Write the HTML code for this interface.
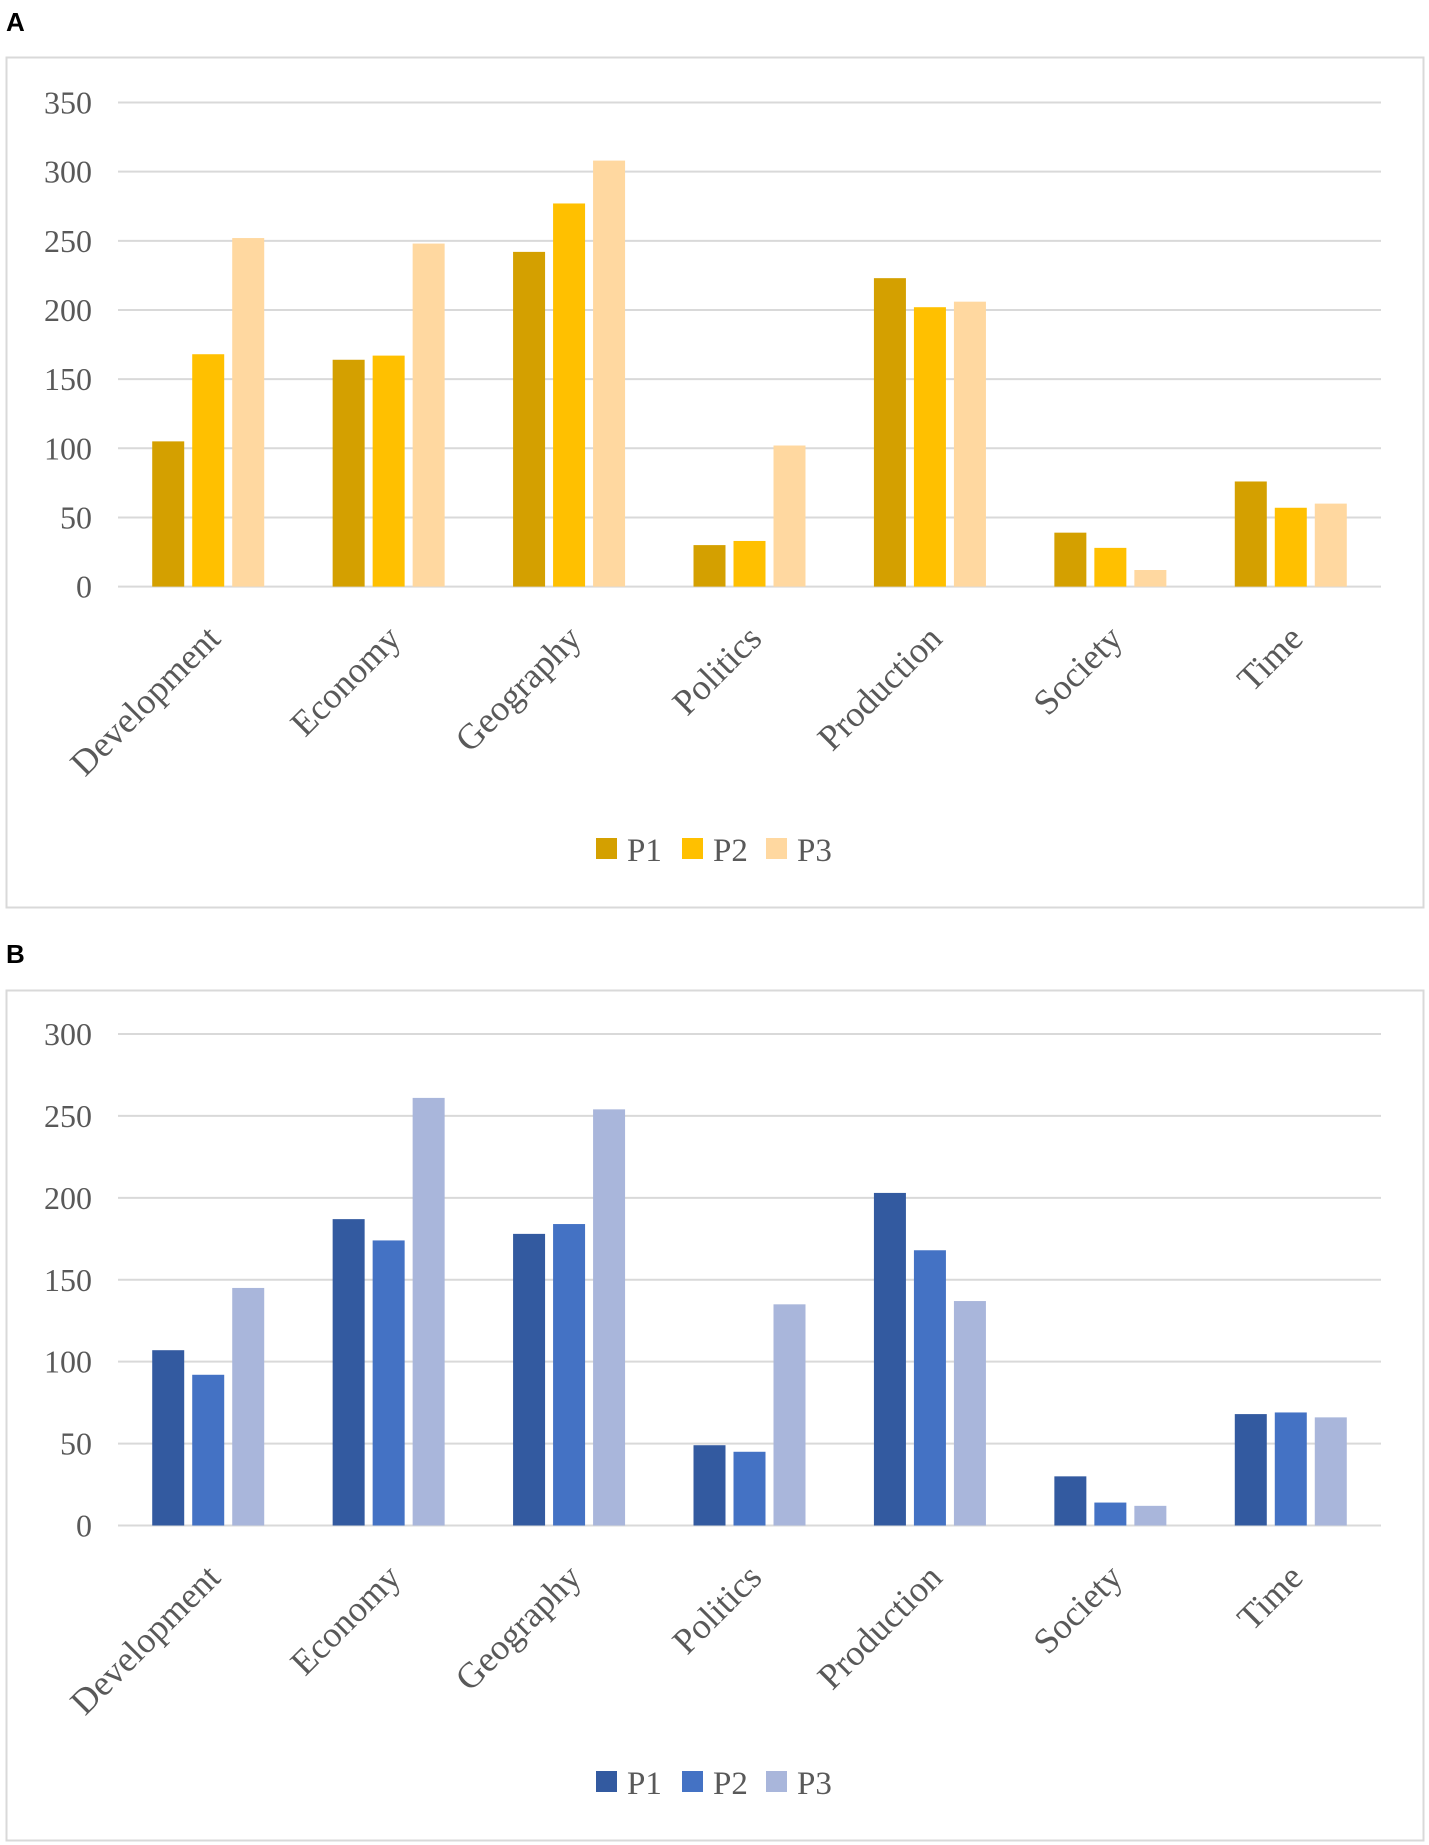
<!DOCTYPE html>
<html><head><meta charset="utf-8"><style>
html,body{margin:0;padding:0;background:#fff}
svg{display:block}
text{font-family:"Liberation Serif",serif;fill:#595959}
</style></head><body>
<svg id="chart" width="1429" height="1845" viewBox="0 0 1429 1845" xmlns="http://www.w3.org/2000/svg"></svg>
<script>
const categories = ["Development","Economy","Geography","Politics","Production","Society","Time"];
const seriesNames = ["P1","P2","P3"];
const aP1 = [105,164,242,30,223,39,76];
const aP2 = [168,167,277,33,202,28,57];
const aP3 = [252,248,308,102,206,12,60];
const bP1 = [107,187,178,49,203,30,68];
const bP2 = [92,174,184,45,168,14,69];
const bP3 = [145,261,254,135,137,12,66];
const aTicks = [0,50,100,150,200,250,300,350];
const bTicks = [0,50,100,150,200,250,300];

const NS = "http://www.w3.org/2000/svg";
const svg = document.getElementById("chart");
function mk(tag, attrs, parent){
  const e = document.createElementNS(NS, tag);
  for (const k in attrs) e.setAttribute(k, attrs[k]);
  (parent||svg).appendChild(e);
  return e;
}

function panel(cfg){
  const g = mk("g", {});
  
  
  const lab = mk("text", {x:6, y:cfg.labelY, "font-weight":"bold", "font-size":"26", style:"fill:#000;font-family:'Liberation Sans',sans-serif"}, g);
  lab.textContent = cfg.id;
  
  
  const frame = mk("rect", {x:6.5, y:cfg.boxTop+0.5, width:1417, height:cfg.boxBottom-cfg.boxTop, fill:"none", stroke:"#d9d9d9", "stroke-width":"2"}, g);
  
  
  const x0 = 118, x1 = 1381;
  const maxT = cfg.ticks[cfg.ticks.length-1];
  const y = v => cfg.y0 - (cfg.y0 - cfg.yTop) * v / maxT;
  const gw = (x1 - x0) / categories.length;
  cfg.ticks.forEach(t => {
    const ln = mk("line", {x1:x0, x2:x1, y1:y(t), y2:y(t), stroke:"#d9d9d9", "stroke-width":"2"}, g);
    
    
    const tx = mk("text", {x:92, y:y(t)+11, "text-anchor":"end", "font-size":"32"}, g);
    tx.textContent = t;
    
    
  });
  const bw = 32, gap = 8;
  cfg.series.forEach((vals, si) => {
    vals.forEach((v, ci) => {
      const cx = x0 + gw*(ci+0.5);
      const bx = cx - 1.5*bw - gap + si*(bw+gap);
      const r = mk("rect", {x:bx, y:y(v), width:bw, height:cfg.y0 - y(v), fill:cfg.colors[si]}, g);
      
      
    });
  });
  categories.forEach((c, ci) => {
    const cx = x0 + gw*(ci+0.5) + 14;
    const ty = cfg.y0 + 54;
    const tx = mk("text", {x:cx, y:ty, "text-anchor":"end", "font-size":"36", transform:`rotate(-45 ${cx} ${ty})`}, g);
    tx.textContent = c;
    
    
  });
  const lx = [596, 682, 766];
  seriesNames.forEach((n, si) => {
    const sq = mk("rect", {x:lx[si], y:cfg.legendY-11, width:21, height:21, fill:cfg.colors[si]}, g);
    
    
    const t = mk("text", {x:lx[si]+31, y:cfg.legendY+12, "font-size":"33"}, g);
    t.textContent = n;
    
    
  });
}

panel({id:"A", labelY:31, boxTop:57, boxBottom:907, y0:586.6, yTop:102.5, ticks:aTicks,
  series:[aP1,aP2,aP3], colors:["#D4A000","#FFC000","#FFD8A0"], legendY:849});
panel({id:"B", labelY:963, boxTop:990, boxBottom:1840, y0:1525.5, yTop:1034, ticks:bTicks,
  series:[bP1,bP2,bP3], colors:["#335AA0","#4472C4","#A9B6DB"], legendY:1782});
</script>
</body></html>
